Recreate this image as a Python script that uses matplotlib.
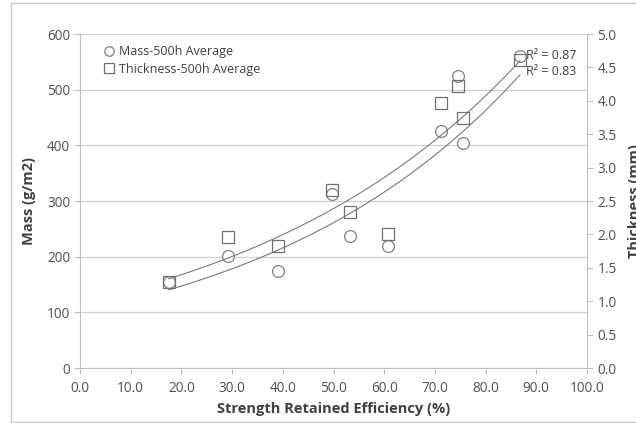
import numpy as np
import matplotlib
matplotlib.use("Agg")
import matplotlib.pyplot as plt
from matplotlib.patches import Rectangle

# Data
efficiency = [17.5, 29.2, 39.0, 49.7, 53.2, 60.8, 71.2, 74.5, 75.5, 86.8]
mass = [154, 201, 174, 312, 237, 219, 425, 524, 404, 560]
thickness = [1.29, 1.96, 1.83, 2.66, 2.34, 2.00, 3.97, 4.22, 3.74, 4.61]
xticks = [0, 10, 20, 30, 40, 50, 60, 70, 80, 90, 100]
mass_ticks = [0, 100, 200, 300, 400, 500, 600]
thick_ticks = [0.0, 0.5, 1.0, 1.5, 2.0, 2.5, 3.0, 3.5, 4.0, 4.5, 5.0]
r2_labels = ["R² = 0.87", "R² = 0.83"]

plt.rcParams['font.family'] = ['Open Sans', 'DejaVu Sans']

W, H = 636, 423
fig = plt.figure(figsize=(W / 100, H / 100), dpi=100)
fig.patches.append(Rectangle((11 / W, 0.002), 1.2, (H - 3) / H - 0.002, transform=fig.transFigure,
                             fill=False, edgecolor='#c8c8c8', linewidth=1.0))

ax = fig.add_axes([80 / W, 1 - 368 / H, (587 - 80) / W, (368 - 34) / H])
ax2 = ax.twinx()

tick_col = '#505050'
spine_col = '#bfbfbf'
mk_col = '#808080'

x = np.array(efficiency)
xs = np.linspace(x.min(), x.max(), 200)

def expfit(xv, yv):
    b, lna = np.polyfit(xv, np.log(yv), 1)
    return np.exp(lna), b

a1, b1 = expfit(x, np.array(mass))
a2, b2 = expfit(x, np.array(thickness))

ax.plot(efficiency, mass, 'o', mfc='white', mec=mk_col, ms=8.5, mew=0.9, label='Mass-500h Average', zorder=3)
ax.plot(xs, a1 * np.exp(b1 * xs), color='#7a7a7a', lw=0.8, zorder=2)
ax2.plot(efficiency, thickness, 's', mfc='none', mec='#707070', ms=9, mew=0.9, label='Thickness-500h Average', zorder=3)
ax2.plot(xs, a2 * np.exp(b2 * xs), color='#7a7a7a', lw=0.8, zorder=2)

ax.set_xlim(0, 100)
ax.set_ylim(0, 600)
ax2.set_ylim(0, 5)
ax.set_xticks(xticks)
ax.set_xticklabels([f"{v:.1f}" for v in xticks])
ax.set_yticks(mass_ticks)
ax2.set_yticks(thick_ticks)
ax2.set_yticklabels([f"{v:.1f}" for v in thick_ticks])

ax.yaxis.grid(True, color='#d0d0d0', lw=0.9)
ax.set_axisbelow(True)

for a in (ax, ax2):
    for s in ['top']:
        a.spines[s].set_visible(False)
    for s in ['left', 'right', 'bottom']:
        a.spines[s].set_color(spine_col)
    a.tick_params(colors=tick_col, labelsize=9.8, length=4, width=0.8, color=spine_col)
ax.spines['right'].set_visible(False)
ax2.spines['left'].set_visible(False)
ax2.spines['bottom'].set_visible(False)
ax.tick_params(axis='y', pad=3)
ax.tick_params(axis='x', pad=5)

lab_col = '#404040'
ax.set_xlabel('Strength Retained Efficiency (%)', fontsize=10.5, fontweight='bold', color=lab_col, labelpad=5)
ax.set_ylabel('Mass (g/m2)', fontsize=10.5, fontweight='bold', color=lab_col, labelpad=8)
ax2.set_ylabel('Thickness (mm)', fontsize=10.5, fontweight='bold', color=lab_col, labelpad=8)

ax.text(88.0, 561, r2_labels[0], fontsize=9, color='#404040', va='center', ha='left')
ax.text(88.0, 532, r2_labels[1], fontsize=9, color='#404040', va='center', ha='left')

h1, l1 = ax.get_legend_handles_labels()
h2, l2 = ax2.get_legend_handles_labels()
leg = ax.legend(h1 + h2, l1 + l2, loc='upper left', bbox_to_anchor=(0.02, 1.0), frameon=False,
                fontsize=9, handletextpad=0.2, labelspacing=0.35, markerscale=0.8, handlelength=1.2,
                labelcolor='#404040')

fig.savefig('out.png', dpi=100)
